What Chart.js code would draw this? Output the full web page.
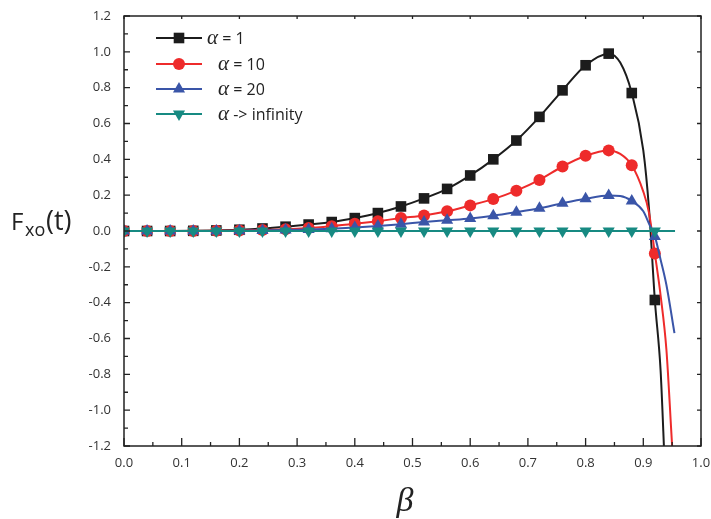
<!DOCTYPE html>
<html>
<head>
<meta charset="utf-8">
<script src="https://cdn.jsdelivr.net/npm/chart.js@4.4.1/dist/chart.umd.min.js"></script>
<style>
  html, body { margin: 0; padding: 0; background: #fff; }
  #wrap { width: 711px; height: 519px; position: relative; }
</style>
</head>
<body>
<div id="wrap"><canvas id="fxoChart"></canvas></div>
<script>
// marker positions (beta) shared by all four curves
const beta = [0, 0.04, 0.08, 0.12, 0.16, 0.20, 0.24, 0.28, 0.32, 0.36, 0.40, 0.44,
              0.48, 0.52, 0.56, 0.60, 0.64, 0.68, 0.72, 0.76, 0.80, 0.84, 0.88, 0.92];

const alpha1   = [0, 0, 0, 0.001, 0.003, 0.007, 0.014, 0.024, 0.036, 0.05, 0.072, 0.1,
                  0.137, 0.182, 0.235, 0.31, 0.4, 0.505, 0.637, 0.785, 0.925, 0.99, 0.77, -0.385];
const alpha10  = [0, 0, 0, 0, 0.001, 0.003, 0.006, 0.01, 0.017, 0.027, 0.04, 0.055,
                  0.072, 0.087, 0.11, 0.143, 0.178, 0.225, 0.285, 0.36, 0.42, 0.45, 0.367, -0.125];
const alpha20  = [0, 0, 0, 0, 0, 0.001, 0.003, 0.005, 0.008, 0.013, 0.02, 0.028,
                  0.038, 0.05, 0.06, 0.07, 0.085, 0.105, 0.127, 0.155, 0.18, 0.198, 0.168, -0.03];
const alphaInf = [0, 0, 0, 0, 0, 0, 0, 0, 0, 0, 0, 0,
                  0, 0, 0, 0, 0, 0, 0, 0, 0, 0, 0, 0];

// extra curve points (no symbol drawn there)
const alpha1CurveX   = [0.86, 0.90, 0.91, 0.93, 0.937];
const alpha1CurveY   = [0.94, 0.45, 0.12, -0.78, -1.3];
const alpha10CurveX  = [0.86, 0.90, 0.91, 0.93, 0.94, 0.95, 0.955];
const alpha10CurveY  = [0.43, 0.22, 0.1, -0.36, -0.66, -1.2, -1.45];
const alpha20CurveX  = [0.86, 0.90, 0.91, 0.93, 0.94, 0.954];
const alpha20CurveY  = [0.195, 0.11, 0.04, -0.16, -0.3, -0.57];
const alphaInfCurveX = [0.955];
const alphaInfCurveY = [0];

const seriesLabels = ['α = 1', 'α = 10', 'α = 20', 'α -> infinity'];

function buildPoints(ys, cx, cy) {
  const pts = beta.map((b, i) => ({ x: b, y: ys[i], m: true }));
  cx.forEach((b, i) => pts.push({ x: b, y: cy[i], m: false }));
  return pts.sort((a, b) => a.x - b.x);
}

function makeSet(label, pts, color, style, radius, rotation, order) {
  return {
    label: label,
    data: pts,
    borderColor: color,
    backgroundColor: color,
    borderWidth: 2,
    pointStyle: style,
    pointRotation: rotation,
    markerRadius: radius,
    pointRadius: ctx => (ctx.raw && ctx.raw.m ? radius : 0),
    pointBorderWidth: 0,
    pointHoverRadius: 0,
    cubicInterpolationMode: 'monotone',
    fill: false,
    order: order
  };
}

// horizontal y title with subscript, beta title, inward frame ticks, legend
const decorations = {
  id: 'decorations',
  afterDatasetsDraw(chart) {
    const { ctx, chartArea: a, scales: { x, y } } = chart;
    ctx.save();
    ctx.strokeStyle = '#222';
    ctx.lineWidth = 1.5;
    ctx.strokeRect(a.left, a.top, a.right - a.left, a.bottom - a.top);

    ctx.lineWidth = 1.3;
    ctx.beginPath();
    const xv = x.ticks.map(t => t.value);
    xv.forEach((v, i) => {
      const px = x.getPixelForValue(v);
      ctx.moveTo(px, a.bottom); ctx.lineTo(px, a.bottom - 8);
      ctx.moveTo(px, a.top); ctx.lineTo(px, a.top + 3);
      if (i < xv.length - 1) {
        const mx = x.getPixelForValue((v + xv[i + 1]) / 2);
        ctx.moveTo(mx, a.bottom); ctx.lineTo(mx, a.bottom - 4);
      }
    });
    const yv = y.ticks.map(t => t.value);
    yv.forEach((v, i) => {
      const py = y.getPixelForValue(v);
      ctx.moveTo(a.left, py); ctx.lineTo(a.left + 6, py);
      ctx.moveTo(a.right, py); ctx.lineTo(a.right - 4, py);
      if (i < yv.length - 1) {
        const my = y.getPixelForValue((v + yv[i + 1]) / 2);
        ctx.moveTo(a.left, my); ctx.lineTo(a.left + 4, my);
      }
    });
    ctx.stroke();

    // legend
    const rows = [38, 64, 89, 114];
    const textX = [207, 218, 218, 218];
    chart.data.datasets.forEach((ds, i) => {
      const yy = rows[i];
      ctx.strokeStyle = ds.borderColor;
      ctx.lineWidth = 2;
      ctx.beginPath();
      ctx.moveTo(156, yy); ctx.lineTo(202, yy);
      ctx.stroke();
      ctx.fillStyle = ds.backgroundColor;
      Chart.helpers.drawPoint(ctx, { pointStyle: ds.pointStyle, rotation: ds.pointRotation, radius: ds.markerRadius, borderWidth: 0 }, 179, yy);
      ctx.fillStyle = '#222';
      ctx.textBaseline = 'middle';
      ctx.font = 'italic 21px "Liberation Serif"';
      ctx.fillText(ds.label.charAt(0), textX[i], yy);
      const w = ctx.measureText(ds.label.charAt(0)).width;
      ctx.font = '16px "Open Sans"';
      ctx.fillText(ds.label.slice(1), textX[i] + w, yy + 1);
    });

    // y title F_xo(t)
    ctx.fillStyle = '#222';
    ctx.textBaseline = 'alphabetic';
    ctx.font = '24px "Open Sans"';
    ctx.fillText('F', 11, 230);
    ctx.font = '18px "Open Sans"';
    ctx.fillText('xo', 25, 236);
    ctx.font = '27px "Open Sans"';
    ctx.fillText('(t)', 46, 230);

    // x title
    ctx.font = 'italic 34px "Liberation Serif"';
    ctx.textAlign = 'center';
    ctx.fillText('β', 405, 511);
    ctx.restore();
  }
};

const tickFont = { family: '"Open Sans"', size: 13 };
const fmt = v => (Math.abs(v) < 1e-9 ? '0.0' : v.toFixed(1));

new Chart(document.getElementById('fxoChart'), {
  type: 'line',
  data: {
    datasets: [
      makeSet(seriesLabels[0], buildPoints(alpha1, alpha1CurveX, alpha1CurveY), '#1c1c1c', 'rect', 7.5, 0, 3),
      makeSet(seriesLabels[1], buildPoints(alpha10, alpha10CurveX, alpha10CurveY), '#ee2b2b', 'circle', 6, 0, 2),
      makeSet(seriesLabels[2], buildPoints(alpha20, alpha20CurveX, alpha20CurveY), '#3a55a8', 'triangle', 7, 0, 1),
      makeSet(seriesLabels[3], buildPoints(alphaInf, alphaInfCurveX, alphaInfCurveY), '#178a82', 'triangle', 7, 180, 0)
    ]
  },
  options: {
    responsive: true,
    maintainAspectRatio: false,
    animation: false,
    layout: { padding: { top: 16, right: 10, left: 0, bottom: 0 } },
    plugins: { legend: { display: false }, tooltip: { enabled: false } },
    scales: {
      x: {
        type: 'linear', min: 0, max: 1,
        grid: { display: false, drawTicks: false },
        border: { display: false },
        ticks: { stepSize: 0.1, font: tickFont, color: '#333', padding: 9, maxRotation: 0, callback: fmt },
        afterFit: s => { s.height = 73; s.paddingLeft = 0; s.paddingRight = 0; }
      },
      y: {
        min: -1.2, max: 1.2,
        grid: { display: false, drawTicks: false },
        border: { display: false },
        ticks: { stepSize: 0.2, font: tickFont, color: '#333', padding: 13, callback: fmt },
        afterFit: s => { s.width = 124; s.paddingTop = 0; s.paddingBottom = 0; }
      }
    }
  },
  plugins: [decorations]
});
</script>
</body>
</html>
